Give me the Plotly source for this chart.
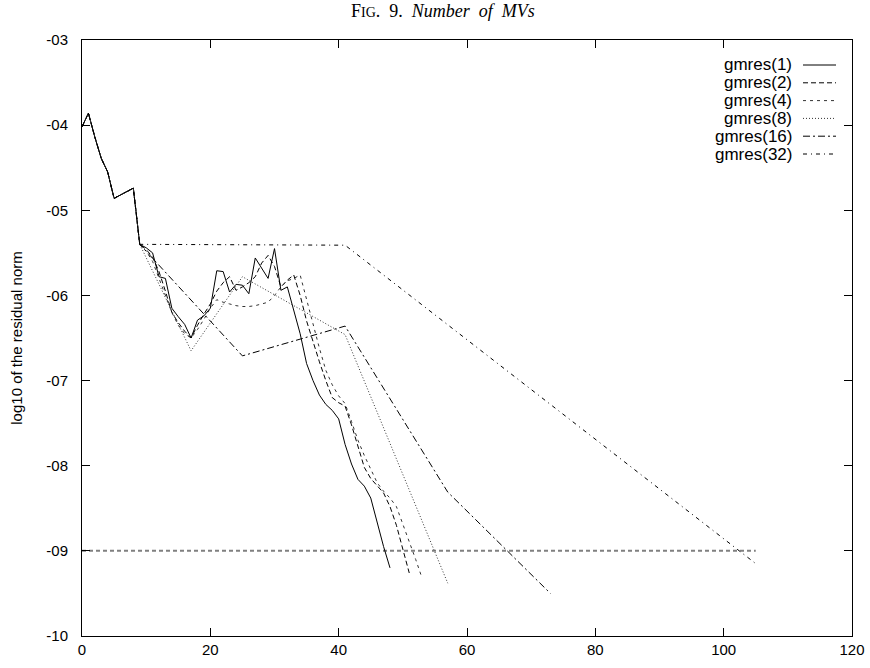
import plotly.graph_objects as go

# ---------------- data ----------------
prefix_x = [0, 1, 2, 3, 4, 5, 6, 7, 8, 9]
prefix_y = [-4.02, -3.86, -4.14, -4.39, -4.55, -4.86, -4.82, -4.78, -4.74, -5.40]

g1_x = list(range(10, 49))
g1_y = [-5.44, -5.50, -5.78, -5.80, -6.15, -6.25, -6.34, -6.50, -6.29, -6.24,
        -6.15, -5.71, -5.72, -5.96, -5.87, -5.88, -5.98, -5.56, -5.68, -5.80,
        -5.45, -5.94, -5.90, -6.18, -6.45, -6.80, -7.00, -7.17, -7.28, -7.35,
        -7.45, -7.75, -7.98, -8.16, -8.24, -8.38, -8.68, -8.95, -9.20]

g2_x = list(range(10, 52))
g2_y = [-5.46, -5.55, -5.72, -5.95, -6.20, -6.32, -6.42, -6.50, -6.35, -6.22,
        -6.10, -5.95, -5.85, -5.78, -5.94, -5.90, -5.85, -5.78, -5.62, -5.53,
        -5.66, -5.90, -5.82, -5.76, -6.00, -6.30, -6.55, -6.78, -7.00, -7.20,
        -7.26, -7.30, -7.52, -7.78, -8.02, -8.15, -8.23, -8.32, -8.48, -8.70,
        -8.98, -9.26]

g4_x = list(range(10, 54))
g4_y = [-5.48, -5.60, -5.80, -6.00, -6.20, -6.35, -6.45, -6.50, -6.40, -6.28,
        -6.15, -6.05, -6.08, -6.10, -6.12, -6.13, -6.13, -6.12, -6.10, -6.08,
        -6.00, -5.90, -5.83, -5.80, -5.76, -6.05, -6.35, -6.62, -6.88, -7.05,
        -7.18, -7.27, -7.48, -7.70, -7.88, -8.05, -8.20, -8.30, -8.38, -8.48,
        -8.68, -8.90, -9.10, -9.32]

g8_x = [17, 25, 33, 41, 49, 57]
g8_y = [-6.65, -5.78, -6.12, -6.46, -7.92, -9.38]

g16_x = [25, 41, 57, 73]
g16_y = [-6.71, -6.36, -8.31, -9.50]

g32_x = [41, 73, 105]
g32_y = [-5.41, -7.28, -9.15]

tol_x = [0, 105]
tol_y = [-9.0, -9.0]

names = ["gmres(1)", "gmres(2)", "gmres(4)", "gmres(8)", "gmres(16)", "gmres(32)"]
xs = [g1_x, g2_x, g4_x, g8_x, g16_x, g32_x]
ys = [g1_y, g2_y, g4_y, g8_y, g16_y, g32_y]

y_tickvals = [-3, -4, -5, -6, -7, -8, -9, -10]
y_ticktext = ["-03", "-04", "-05", "-06", "-07", "-08", "-09", "-10"]
x_tickvals = [0, 20, 40, 60, 80, 100, 120]

# ---------------- styles ----------------
dashes = ["solid", "5px,3px", "3px,4px", "1px,2px", "7px,3px,2px,3px", "4px,4px,1px,4px"]
colors = ["#000000", "#000000", "#333333", "#333333", "#000000", "#000000"]

# ---------------- layout geometry ----------------
W, H = 870, 668
L, R, T, B = 82, 18, 40, 32
PW, PH = W - L - R, H - T - B

def px2paper(px, py):
    return (px - L) / PW, 1 - (py - T) / PH

fig = go.Figure()

fig.add_trace(go.Scatter(x=tol_x, y=tol_y, mode="lines", showlegend=False,
                         line=dict(color="#808080", width=2, dash="4px,3px")))

for n, x, y, d, c in zip(names, xs, ys, dashes, colors):
    fig.add_trace(go.Scatter(x=prefix_x + x, y=prefix_y + y, mode="lines", name=n,
                             showlegend=False,
                             line=dict(color=c, width=1, dash=d)))

# custom legend (text right-aligned, sample line on the right)
shapes = []
annotations = []
for i, (n, d, c) in enumerate(zip(names, dashes, colors)):
    py = 65 + i * 17.8
    xt, yt = px2paper(793, py)
    x0, _ = px2paper(803, py)
    x1, _ = px2paper(836, py)
    annotations.append(dict(x=xt, y=yt, xref="paper", yref="paper", text=n,
                            showarrow=False, xanchor="right", yanchor="middle",
                            borderpad=0,
                            font=dict(family="Liberation Sans, Arial", size=17, color="black")))
    shapes.append(dict(type="line", xref="paper", yref="paper", x0=x0, x1=x1, y0=yt, y1=yt,
                       line=dict(color=c, width=1, dash=d)))

tx, ty = px2paper(443, 11)
annotations.append(dict(x=tx, y=ty, xref="paper", yref="paper",
                        text="F<span style='font-size:14px'>IG</span>.&nbsp;&nbsp;9.&nbsp;&nbsp;<i>Number&nbsp;&nbsp;of&nbsp;&nbsp;MVs</i>",
                        showarrow=False, xanchor="center", yanchor="middle",
                        font=dict(family="Liberation Serif, DejaVu Serif, serif", size=18, color="black")))

fig.update_layout(
    width=W, height=H,
    margin=dict(l=L, r=R, t=T, b=B, pad=0, autoexpand=False),
    paper_bgcolor="white", plot_bgcolor="white",
    shapes=shapes, annotations=annotations,
    font=dict(family="Liberation Sans, Arial", size=14, color="black"),
    showlegend=False,
)
fig.update_xaxes(range=[0, 120], tickvals=x_tickvals, ticks="inside", ticklen=8,
                 tickcolor="black", showline=True, linecolor="black", linewidth=1,
                 mirror="ticks", showgrid=False, zeroline=False, automargin=False,
                 tickfont=dict(size=15))
fig.update_yaxes(range=[-10, -3], tickvals=y_tickvals, ticktext=y_ticktext,
                 ticks="inside", ticklen=8, tickcolor="black", showline=True,
                 linecolor="black", linewidth=1, mirror="ticks", showgrid=False,
                 zeroline=False, tickfont=dict(size=15), ticklabelstandoff=10,
                 automargin=False,
                 title=dict(text="log10 of the residual norm", font=dict(size=15), standoff=20))

fig.write_html("out.html")
